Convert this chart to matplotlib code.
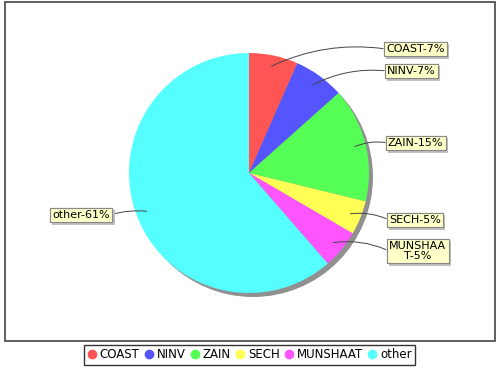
import matplotlib
matplotlib.use("Agg")
import matplotlib.pyplot as plt
import matplotlib.patheffects as pe
from matplotlib.patches import Circle, Rectangle
from matplotlib.lines import Line2D
import numpy as np

plt.rcParams['font.family'] = ['DejaVu Sans']

names = ['COAST', 'NINV', 'ZAIN', 'SECH', 'MUNSHAAT', 'other']
shares = [6.6, 6.8, 15.4, 4.6, 5.2, 61.4]
label_texts = ['COAST-7%', 'NINV-7%', 'ZAIN-15%', 'SECH-5%', 'MUNSHAA\nT-5%', 'other-61%']
colors = ['#FF5555', '#5555FF', '#55FF55', '#FFFF55', '#FF55FF', '#55FFFF']

# label box positions (left or right edge, vertical centre) in pixel coords
label_pos = [(383, 49, 'left'), (384, 71, 'left'), (385, 143, 'left'),
             (386, 220, 'left'), (386, 251, 'left'), (113, 215, 'right')]

W, H = 500, 370
fig = plt.figure(figsize=(5, 3.7), dpi=100)
ax = fig.add_axes([0, 0, 1, 1])

cx, cy, R = 249, H - 173, 120

# plot area frame
ax.add_patch(Rectangle((5, H - 341), 490, 339, fill=False, ec='#444444', lw=1.2, zorder=0))
# pie shadow
ax.add_patch(Circle((cx + 4, cy - 4), R, fc='#909090', ec='none', zorder=1))

wedges, _ = ax.pie(shares, colors=colors, startangle=90, counterclock=False,
                   center=(cx, cy), radius=R, frame=True,
                   wedgeprops=dict(lw=0))
for w in wedges:
    w.set_zorder(2)

ax.set_xlim(0, W)
ax.set_ylim(0, H)
ax.set_aspect('equal')
ax.axis('off')

for w, txt, (lx, ly, side) in zip(wedges, label_texts, label_pos):
    mid = np.deg2rad((w.theta1 + w.theta2) / 2)
    anchor = (cx + 0.91 * R * np.cos(mid), cy + 0.91 * R * np.sin(mid))
    tx = lx + 3 if side == 'left' else lx - 3
    ty = H - ly
    rad = 0.15 if side == 'left' else -0.1
    relx = 0 if side == 'left' else 1
    ann = ax.annotate(txt, xy=anchor, xytext=(tx, ty), ha=side, va='center', fontsize=8,
                      multialignment='center', linespacing=1.0,
                      bbox=dict(boxstyle='square,pad=0.22', fc='#FFFFC8', ec='#888888', lw=0.8),
                      arrowprops=dict(arrowstyle='-', color='#444444', lw=0.7, relpos=(relx, 0.5),
                                      shrinkA=0, shrinkB=0,
                                      connectionstyle='arc3,rad=%s' % rad),
                      zorder=4)
    ann.get_bbox_patch().set_path_effects([
        pe.withSimplePatchShadow(offset=(1.5, -1.5), shadow_rgbFace='#c0c0c0', alpha=1),
        pe.Normal()])

handles = [Line2D([], [], marker='o', ls='none', color=c, markersize=6) for c in colors]
leg = fig.legend(handles, names, loc='center', bbox_to_anchor=(0.499, 0.041), ncol=6,
                 fontsize=8.5, frameon=True, fancybox=False, edgecolor='black',
                 handletextpad=0.25, columnspacing=0.4, handlelength=0.8,
                 borderpad=0.3, borderaxespad=0)
leg.get_frame().set_linewidth(1.0)

fig.savefig('out.png', dpi=100, facecolor='white')
